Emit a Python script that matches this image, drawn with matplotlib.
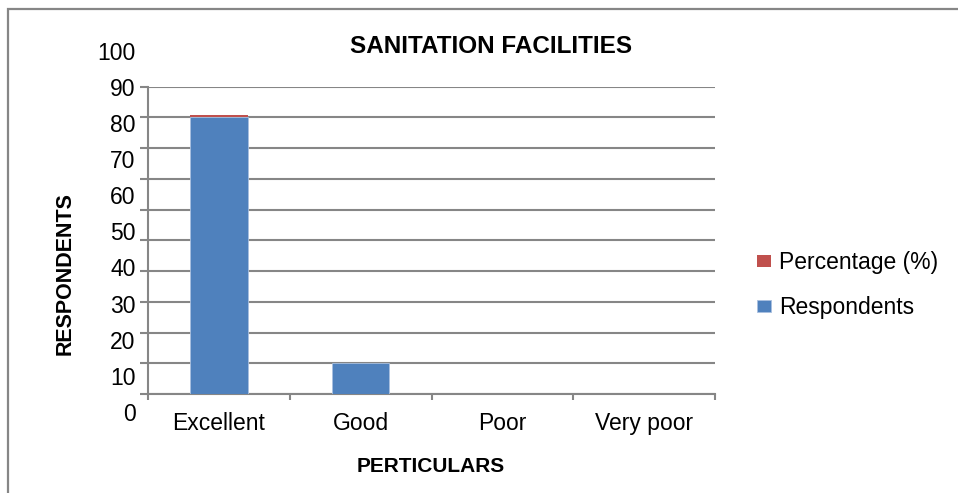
import matplotlib
matplotlib.use("Agg")
import matplotlib.pyplot as plt
import numpy as np
from matplotlib.patches import Rectangle

categories = ["Excellent", "Good", "Poor", "Very poor"]
respondents = [90, 10, 0, 0]
percentage = [0.9, 0.1, 0, 0]
ytick_labels = ["0", "10", "20", "30", "40", "50", "60", "70", "80", "90", "100"]

W, H = 958, 493
plt.rcParams['font.family'] = ['Liberation Sans', 'DejaVu Sans']
fig = plt.figure(figsize=(W / 100, H / 100), dpi=100)

def fx(px):
    return px / W

def fy(py):
    return 1 - py / H

GRAY = "#868686"
BLUE = "#4F81BD"
RED = "#C0504D"

# outer frame (extends beyond right/bottom edges)
fig.patches.append(Rectangle((fx(8), fy(700)), fx(1200), (700 - 9) / H,
                             transform=fig.transFigure, fill=False, edgecolor=GRAY,
                             linewidth=1.6))

left, right, top, bottom = 148, 715, 86.7, 394
ax = fig.add_axes([fx(left), fy(bottom), fx(right - left), fy(top) - fy(bottom)])
x = np.arange(len(categories))
bw = 0.404
b1 = ax.bar(x, respondents, width=bw, color=BLUE, edgecolor="#a9c0e0", linewidth=0.6,
            label="Respondents", zorder=3)
b2 = ax.bar(x, percentage, width=bw, bottom=respondents, color=RED, linewidth=0,
            label="Percentage (%)", zorder=3)

ax.set_xlim(-0.5, len(categories) - 0.5)
ax.set_ylim(0, 100)
ax.set_yticks(np.arange(0, 101, 10))
ax.set_yticklabels([])
ax.yaxis.grid(True, color=GRAY, linewidth=1.5, zorder=0)
ax.set_axisbelow(True)
for s in ["top", "right"]:
    ax.spines[s].set_visible(False)
for s in ["left", "bottom"]:
    ax.spines[s].set_color(GRAY)
    ax.spines[s].set_linewidth(1.5)
ax.tick_params(axis="y", direction="out", length=6, width=1.5, color=GRAY)
ax.set_xticks(np.arange(-0.5, len(categories), 1.0))
ax.set_xticklabels([])
ax.tick_params(axis="x", which="major", direction="out", length=4.5, width=1.5, color=GRAY)
ax.set_xticks(x, minor=True)
ax.set_xticklabels(categories, minor=True, fontsize=16.5)
ax.tick_params(axis="x", which="minor", length=0, pad=13)
ax.patch.set_alpha(0)

# y tick labels (as drawn in the reference, on their own scale)
lab_top, lab_bot = 50.5, 412
lax = fig.add_axes([fx(left), fy(lab_bot), 0.001, fy(lab_top) - fy(lab_bot)])
lax.set_ylim(0, 100)
lax.set_yticks(np.arange(0, 101, 10))
lax.set_yticklabels(ytick_labels, fontsize=16.5)
lax.tick_params(axis="y", length=0, pad=9)
lax.set_xticks([])
for s in lax.spines.values():
    s.set_visible(False)
lax.patch.set_alpha(0)

fig.text(fx(491), fy(53.3), "SANITATION FACILITIES", ha="center", va="baseline",
         fontsize=17.5, fontweight="bold")
fig.text(fx(431), fy(472), "PERTICULARS", ha="center", va="baseline",
         fontsize=15, fontweight="bold")
fig.text(fx(71), fy(274), "RESPONDENTS", ha="center", va="baseline", rotation=90,
         rotation_mode="anchor", fontsize=15.5, fontweight="bold")

leg = fig.legend(handles=[b2, b1], labels=["Percentage (%)", "Respondents"],
                 loc="upper left", bbox_to_anchor=(fx(757), fy(251)), frameon=False,
                 fontsize=16.5, handlelength=0.61, handleheight=0.44, handletextpad=0.35,
                 labelspacing=0.98, borderpad=0, borderaxespad=0)

fig.savefig("out.png", dpi=100)
